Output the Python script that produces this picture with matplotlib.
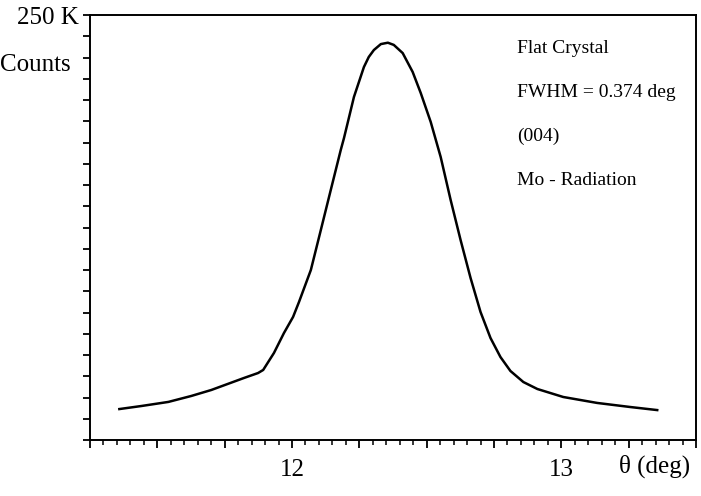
import matplotlib.pyplot as plt
from matplotlib.ticker import MultipleLocator, FuncFormatter

plt.rcParams['font.family'] = ['Liberation Serif', 'DejaVu Serif']

# rocking curve (theta in deg, counts in K)
theta = [11.359, 11.441, 11.541, 11.626, 11.700, 11.822, 11.874, 11.893, 11.933,
         11.970, 12.004, 12.026, 12.070, 12.107, 12.144, 12.181, 12.193, 12.230,
         12.267, 12.285, 12.304, 12.330, 12.356, 12.378, 12.411, 12.448, 12.478,
         12.515, 12.552, 12.589, 12.626, 12.663, 12.700, 12.737, 12.774, 12.811,
         12.859, 12.911, 13.007, 13.133, 13.256, 13.356]
counts = [18.2, 20.0, 22.4, 25.9, 29.4, 36.5, 39.4, 41.2, 51.2,
          62.9, 72.4, 81.2, 100.0, 123.5, 147.1, 170.6, 177.6, 201.8,
          219.4, 225.3, 229.4, 232.9, 233.7, 232.4, 227.6, 216.5, 204.1,
          187.1, 166.5, 141.2, 117.6, 95.3, 75.3, 60.0, 48.8, 40.6,
          34.1, 30.0, 25.3, 21.8, 19.4, 17.6]

notes = ["Flat Crystal", "FWHM = 0.374 deg", "(004)", "Mo - Radiation"]

fig = plt.figure(figsize=(7.01, 4.96), dpi=100)
ax = fig.add_axes([90/701, 56/496, 606/701, 425/496])

ax.plot(theta, counts, color='black', lw=1.8)
ax.set_xlim(11.25, 13.5)
ax.set_ylim(0, 250)

for s in ax.spines.values():
    s.set_linewidth(1.4)

ax.xaxis.set_major_locator(MultipleLocator(0.25))
ax.xaxis.set_minor_locator(MultipleLocator(0.05))
ax.xaxis.set_major_formatter(FuncFormatter(
    lambda v, p: f"{int(round(v))}" if abs(v - round(v)) < 1e-6 and 11.5 < v < 13.5 else ""))
ax.yaxis.set_major_locator(MultipleLocator(12.5))
ax.yaxis.set_major_formatter(FuncFormatter(lambda v, p: "250 K" if abs(v - 250) < 1e-6 else ""))

ax.tick_params(axis='x', which='major', direction='out', length=6, width=1.3,
               labelsize=18, pad=8)
ax.tick_params(axis='x', which='minor', direction='out', length=3.5, width=1.1)
ax.tick_params(axis='y', which='major', direction='out', length=5, width=1.3,
               labelsize=18, pad=3)

fig.text(0, 1 - 65/496, "Counts", fontsize=18, ha='left', va='center')
fig.text(655/701, 1 - 466/496, "θ (deg)", fontsize=18, ha='center', va='center')

for i, t in enumerate(notes):
    fig.text(517/701, 1 - (53 + 44*i)/496, t, fontsize=14, ha='left', va='baseline')

fig.savefig("out.png", dpi=100)
